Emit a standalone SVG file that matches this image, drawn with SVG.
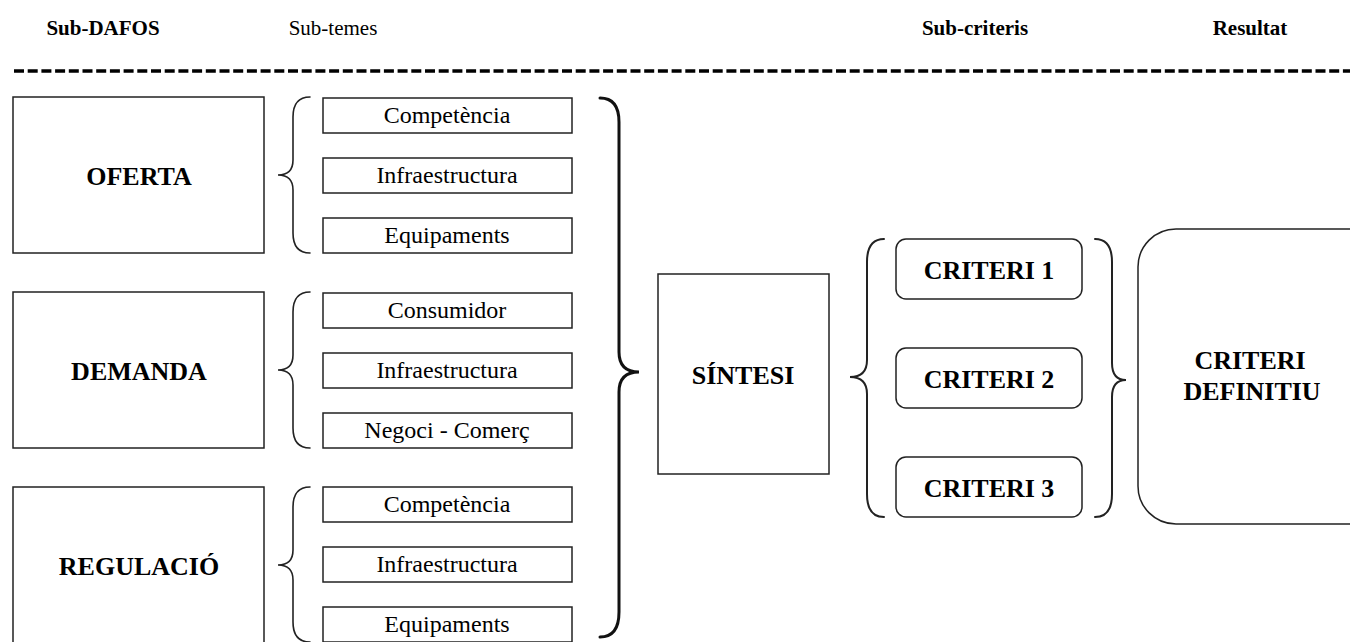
<svg xmlns="http://www.w3.org/2000/svg" width="1350" height="642" viewBox="0 0 1350 642">
  <style>
    .hdr { font-family: "Liberation Serif", "Times New Roman", serif; font-size: 21px; fill: #000; text-anchor: middle; }
    .hdr-b { font-weight: bold; }
    .box { fill: #fff; stroke: #222; stroke-width: 1.5; }
    .lbl { font-family: "Liberation Serif", "Times New Roman", serif; font-size: 26px; font-weight: bold; fill: #000; text-anchor: middle; }
    .sub { font-family: "Liberation Serif", "Times New Roman", serif; font-size: 24px; fill: #000; text-anchor: middle; }
    .brace { fill: none; stroke: #222; stroke-width: 1.6; stroke-linecap: round; }
    .brace-big { fill: none; stroke: #111; stroke-width: 3; stroke-linecap: round; }
    .brace-mid { fill: none; stroke: #222; stroke-width: 2; stroke-linecap: round; }
  </style>

  <rect width="1350" height="642" fill="#fff"/>

  <!-- column headings -->
  <g id="headings">
    <text class="hdr hdr-b" x="103" y="35" font-size="20">Sub-DAFOS</text>
    <text class="hdr" x="333" y="35" font-size="19">Sub-temes</text>
    <text class="hdr hdr-b" x="975" y="35" font-size="23">Sub-criteris</text>
    <text class="hdr hdr-b" x="1250" y="35" font-size="23">Resultat</text>
    <line x1="14" y1="71" x2="1350" y2="71" stroke="#000" stroke-width="3.5" stroke-dasharray="10 3.7"/>
  </g>

  <!-- main blocks -->
  <g id="oferta">
    <rect class="box" x="13" y="97" width="251" height="156"/>
    <text class="lbl" x="139" y="185">OFERTA</text>
  </g>
  <g id="demanda">
    <rect class="box" x="13" y="292" width="251" height="156"/>
    <text class="lbl" x="139" y="380">DEMANDA</text>
  </g>
  <g id="regulacio">
    <rect class="box" x="13" y="487" width="251" height="160"/>
    <text class="lbl" x="139" y="575">REGULACIÓ</text>
  </g>

  <!-- sub-themes -->
  <g id="oferta-competencia"><rect class="box" x="323" y="98" width="249" height="35"/><text class="sub" x="447" y="123">Competència</text></g>
  <g id="oferta-infraestructura"><rect class="box" x="323" y="158" width="249" height="35"/><text class="sub" x="447" y="183">Infraestructura</text></g>
  <g id="oferta-equipaments"><rect class="box" x="323" y="218" width="249" height="35"/><text class="sub" x="447" y="243">Equipaments</text></g>

  <g id="demanda-consumidor"><rect class="box" x="323" y="293" width="249" height="35"/><text class="sub" x="447" y="318">Consumidor</text></g>
  <g id="demanda-infraestructura"><rect class="box" x="323" y="353" width="249" height="35"/><text class="sub" x="447" y="378">Infraestructura</text></g>
  <g id="demanda-negoci"><rect class="box" x="323" y="413" width="249" height="35"/><text class="sub" x="447" y="438">Negoci - Comerç</text></g>

  <g id="regulacio-competencia"><rect class="box" x="323" y="487" width="249" height="35"/><text class="sub" x="447" y="512">Competència</text></g>
  <g id="regulacio-infraestructura"><rect class="box" x="323" y="547" width="249" height="35"/><text class="sub" x="447" y="572">Infraestructura</text></g>
  <g id="regulacio-equipaments"><rect class="box" x="323" y="607" width="249" height="35"/><text class="sub" x="447" y="632">Equipaments</text></g>

  <!-- synthesis -->
  <g id="sintesi">
    <rect class="box" x="658" y="274" width="171" height="200"/>
    <text class="lbl" x="743" y="384">SÍNTESI</text>
  </g>

  <!-- criteria -->
  <g id="criteri-1">
    <rect class="box" x="896" y="239" width="186" height="60" rx="10"/>
    <text class="lbl" x="989" y="279">CRITERI 1</text>
  </g>
  <g id="criteri-2">
    <rect class="box" x="896" y="348" width="186" height="60" rx="10"/>
    <text class="lbl" x="989" y="388">CRITERI 2</text>
  </g>
  <g id="criteri-3">
    <rect class="box" x="896" y="457" width="186" height="60" rx="10"/>
    <text class="lbl" x="989" y="497">CRITERI 3</text>
  </g>

  <!-- final result -->
  <g id="criteri-definitiu">
    <rect class="box" x="1138" y="229" width="260" height="295" rx="38"/>
    <text class="lbl" x="1250" y="369">CRITERI</text>
    <text class="lbl" x="1252" y="400">DEFINITIU</text>
  </g>

  <!-- grouping braces -->
  <g id="connectors">
    <path class="brace" d="M310,97 Q293,97 293,117 L293,160 Q293,175 278,175 Q293,175 293,190 L293,233 Q293,253 310,253"/>
    <path class="brace" d="M310,292 Q293,292 293,312 L293,355 Q293,370 278,370 Q293,370 293,385 L293,428 Q293,448 310,448"/>
    <path class="brace" d="M310,487 Q293,487 293,507 L293,550 Q293,565 278,565 Q293,565 293,580 L293,622 Q293,642 310,642"/>

    <path class="brace-big" d="M600,98 Q619,98 619,122 L619,352 Q619,372 639,372 Q619,372 619,392 L619,612 Q619,637 600,637"/>

    <path class="brace-mid" d="M884,239 Q867,239 867,262 L867,360 Q867,377 850,377 Q867,377 867,394 L867,494 Q867,517 884,517"/>
    <path class="brace-mid" d="M1095,239 Q1112,239 1112,262 L1112,363 Q1112,380 1126,380 Q1112,380 1112,397 L1112,494 Q1112,517 1095,517"/>
  </g>
</svg>
